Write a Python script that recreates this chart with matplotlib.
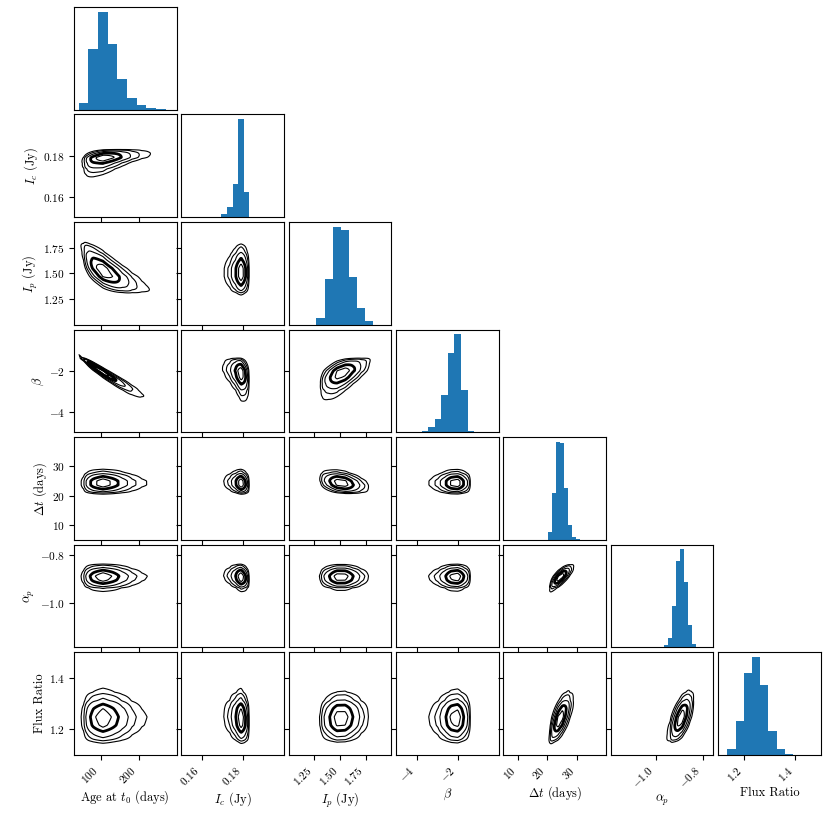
import math
import numpy as np
import matplotlib
matplotlib.use("Agg")
import matplotlib.pyplot as plt

plt.rcParams['font.family'] = 'serif'
plt.rcParams['font.serif'] = ['cmr10']
plt.rcParams['mathtext.fontset'] = 'cm'
plt.rcParams['axes.formatter.use_mathtext'] = True

labels = ['Age at $t_0$ (days)', '$I_c$ (Jy)', '$I_p$ (Jy)', r'$\beta$',
          r'$\Delta t$ (days)', r'$\alpha_p$', 'Flux Ratio']
limits = [(30, 300), (0.15, 0.20), (1.0, 2.0), (-5, 0), (5, 40), (-1.19, -0.755), (1.1, 1.5)]
ticks = [[100, 200], [0.16, 0.18], [1.25, 1.50, 1.75], [-4, -2], [10, 20, 30], [-1.0, -0.8], [1.2, 1.4]]

# marginal histograms
age_edges = [43.0, 68.4, 93.8, 119.2, 144.6, 170.0, 195.4, 220.8, 246.2, 271.6]
age_counts = [21, 181, 292, 195, 92, 35, 14, 7, 3]
ic_edges = [0.1668, 0.1695, 0.1723, 0.1750, 0.1777, 0.1805, 0.1832]
ic_counts = [2, 10, 30, 99, 290, 75]
ip_edges = [1.269, 1.351, 1.432, 1.511, 1.589, 1.667, 1.746, 1.824]
ip_counts = [21, 137, 292, 283, 143, 50, 11]
beta_edges = [-4.06, -3.74, -3.42, -3.11, -2.79, -2.47, -2.16, -1.84, -1.52, -1.21]
beta_counts = [2, 5, 16, 40, 112, 238, 292, 125, 4]
dt_edges = [20.26, 21.63, 22.99, 24.36, 25.72, 27.09, 28.45, 29.82, 31.18]
dt_counts = [23, 140, 290, 286, 155, 43, 8, 3]
alpha_edges = [-0.964, -0.947, -0.930, -0.913, -0.896, -0.880, -0.863, -0.846, -0.829]
alpha_counts = [8, 28, 123, 258, 291, 195, 68, 10]
flux_edges = [1.136, 1.168, 1.200, 1.232, 1.264, 1.296, 1.328, 1.360, 1.392]
flux_counts = [17, 100, 243, 291, 208, 71, 17, 3]

hist_edges = [age_edges, ic_edges, ip_edges, beta_edges, dt_edges, alpha_edges, flux_edges]
hist_counts = [age_counts, ic_counts, ip_counts, beta_counts, dt_counts, alpha_counts, flux_counts]

# pairwise correlations (row, col), estimated from the tilt of the contours
corr = {(1, 0): 0.4,
        (2, 0): -0.7, (2, 1): 0.0,
        (3, 0): -0.97, (3, 1): -0.3, (3, 2): 0.55,
        (4, 0): 0.0, (4, 1): -0.1, (4, 2): -0.3, (4, 3): 0.0,
        (5, 0): 0.0, (5, 1): -0.15, (5, 2): 0.0, (5, 3): 0.0, (5, 4): 0.75,
        (6, 0): 0.0, (6, 1): -0.1, (6, 2): 0.05, (6, 3): 0.0, (6, 4): 0.65, (6, 5): 0.6}

masses = [0.96, 0.9, 0.78, 0.5, 0.2]
widths = [0.8, 0.8, 0.8, 2.0, 0.8]

z_tab = np.linspace(-5, 5, 2001)
phi_tab = 0.5 * (1 + np.array([math.erf(v / math.sqrt(2)) for v in z_tab]))


def marginal(k, x):
    e = np.asarray(hist_edges[k], float)
    c = np.asarray(hist_counts[k], float)
    centers = 0.5 * (e[:-1] + e[1:])
    px = np.concatenate([[e[0]], centers, [e[-1]]])
    py = np.concatenate([[0], c / np.diff(e), [0]])
    pdf = np.interp(x, px, py, left=0, right=0)
    fine = np.linspace(limits[k][0], limits[k][1], 4000)
    fp = np.interp(fine, px, py, left=0, right=0)
    cdf = np.concatenate([[0], np.cumsum(0.5 * (fp[1:] + fp[:-1]) * np.diff(fine))])
    cdf /= cdf[-1]
    F = np.clip(np.interp(x, fine, cdf), 1e-7, 1 - 1e-7)
    z = np.interp(F, phi_tab, z_tab)
    return pdf, z


def density(i, j, ng=160):
    xg = np.linspace(limits[j][0], limits[j][1], ng)
    yg = np.linspace(limits[i][0], limits[i][1], ng)
    fx, zx = marginal(j, xg)
    fy, zy = marginal(i, yg)
    r = corr[(i, j)]
    ZX, ZY = np.meshgrid(zx, zy)
    cop = np.exp(-(r * r * (ZX ** 2 + ZY ** 2) - 2 * r * ZX * ZY) / (2 * (1 - r * r))) / np.sqrt(1 - r * r)
    f = cop * fy[:, None] * fx[None, :]
    return xg, yg, f


def mass_levels(f):
    flat = np.sort(f.ravel())[::-1]
    cum = np.cumsum(flat)
    cum /= cum[-1]
    return [flat[np.searchsorted(cum, m)] for m in masses]


n = len(labels)
fig, axes = plt.subplots(n, n, figsize=(8.3, 8.3), dpi=100)
fig.subplots_adjust(left=0.089, right=0.989, bottom=0.0904, top=0.9916, wspace=0.045, hspace=0.045)

for i in range(n):
    for j in range(n):
        ax = axes[i, j]
        if j > i:
            ax.axis('off')
            continue
        for s in ax.spines.values():
            s.set_linewidth(0.8)
        ax.tick_params(direction='out', length=3.5, width=0.8, labelsize=8.2, pad=3)
        ax.set_xlim(limits[j])
        if i == j:
            e = hist_edges[i]
            c = hist_counts[i]
            mids = [0.5 * (e[k] + e[k + 1]) for k in range(len(c))]
            ax.hist(mids, bins=e, weights=c, color='#1f77b4')
            ax.set_ylim(0, 1.05 * max(c))
            ax.set_yticks([])
            if i < n - 1:
                ax.set_xticks([])
            else:
                ax.set_xticks(ticks[j])
        else:
            xg, yg, f = density(i, j)
            ax.contour(xg, yg, f, levels=mass_levels(f), colors='k', linewidths=widths)
            ax.set_ylim(limits[i])
            ax.set_xticks(ticks[j])
            ax.set_yticks(ticks[i])
            if j == 0:
                ax.set_ylabel(labels[i], fontsize=9, labelpad=2)
            else:
                ax.set_yticklabels([])
        if i == n - 1:
            ax.set_xlabel(labels[j], fontsize=9, labelpad=2)
            plt.setp(ax.get_xticklabels(), rotation=45, ha='right')
        elif i != j:
            ax.set_xticklabels([])

fig.savefig('out.png', dpi=100)
